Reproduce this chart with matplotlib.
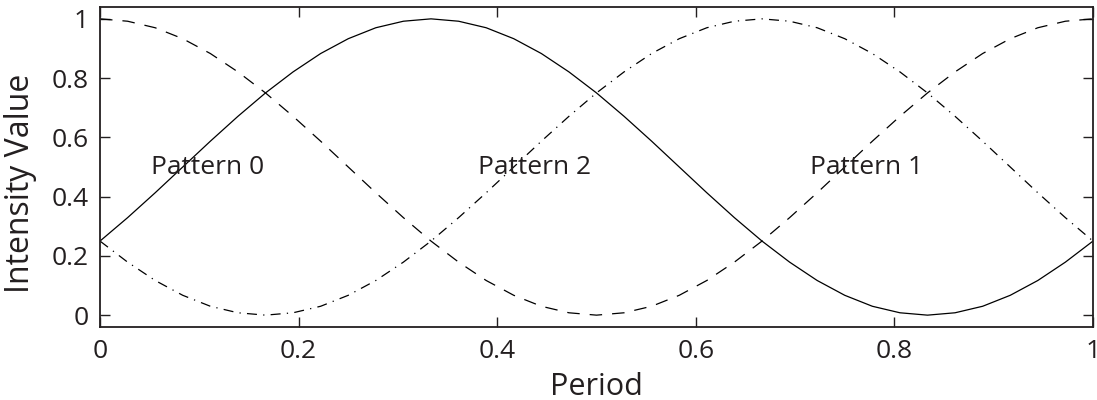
import numpy as np
import matplotlib
matplotlib.use("Agg")
import matplotlib.pyplot as plt

plt.rcParams["font.family"] = ["Open Sans", "DejaVu Sans"]

period = np.linspace(0, 1, 37)
pattern_0 = [0.250, 0.329, 0.413, 0.500, 0.587, 0.671, 0.750, 0.821, 0.883,
             0.933, 0.970, 0.992, 1.000, 0.992, 0.970, 0.933, 0.883, 0.821,
             0.750, 0.671, 0.587, 0.500, 0.413, 0.329, 0.250, 0.179, 0.117,
             0.067, 0.030, 0.008, 0.000, 0.008, 0.030, 0.067, 0.117, 0.179,
             0.250]
pattern_1 = [1.000, 0.992, 0.970, 0.933, 0.883, 0.821, 0.750, 0.671, 0.587,
             0.500, 0.413, 0.329, 0.250, 0.179, 0.117, 0.067, 0.030, 0.008,
             0.000, 0.008, 0.030, 0.067, 0.117, 0.179, 0.250, 0.329, 0.413,
             0.500, 0.587, 0.671, 0.750, 0.821, 0.883, 0.933, 0.970, 0.992,
             1.000]
pattern_2 = [0.250, 0.179, 0.117, 0.067, 0.030, 0.008, 0.000, 0.008, 0.030,
             0.067, 0.117, 0.179, 0.250, 0.329, 0.413, 0.500, 0.587, 0.671,
             0.750, 0.821, 0.883, 0.933, 0.970, 0.992, 1.000, 0.992, 0.970,
             0.933, 0.883, 0.821, 0.750, 0.671, 0.587, 0.500, 0.413, 0.329,
             0.250]

labels = ["Pattern 0", "Pattern 2", "Pattern 1"]
label_x = [0.108, 0.438, 0.772]
label_y = [0.5, 0.5, 0.5]

ticks = [0, 0.2, 0.4, 0.6, 0.8, 1]
tick_labels = ["0", "0.2", "0.4", "0.6", "0.8", "1"]

ink = "#231f20"

fig = plt.figure(figsize=(10.97, 4.0), dpi=100)
ax = fig.add_axes([100 / 1097, 73 / 400, 993 / 1097, 320 / 400])

ax.plot(period, pattern_0, color="black", lw=0.9, ls="-")
ax.plot(period, pattern_1, color="black", lw=0.9, ls=(0, (10, 8)))
ax.plot(period, pattern_2, color="black", lw=0.9, ls=(0, (8, 5, 1, 5)))

for txt, lx, ly in zip(labels, label_x, label_y):
    ax.text(lx, ly, txt, fontsize=19, ha="center", va="center", color=ink)

ax.set_xlim(0, 1)
ax.set_ylim(-0.04, 1.04)
ax.set_xticks(ticks)
ax.set_xticklabels(tick_labels)
ax.set_yticks(ticks)
ax.set_yticklabels(tick_labels)
ax.tick_params(direction="in", length=7, width=1, labelsize=19,
               top=True, right=True, colors=ink)
ax.tick_params(axis="x", pad=9)
ax.tick_params(axis="y", pad=8)
for sp in ax.spines.values():
    sp.set_linewidth(1.3)
    sp.set_color(ink)

ax.set_xlabel("Period", fontsize=22, color=ink)
ax.set_ylabel("Intensity Value", fontsize=23, color=ink)
ax.xaxis.set_label_coords(0.5, -0.14)
ax.yaxis.set_label_coords(-0.063, 0.45)

fig.savefig("out.png", dpi=100)
